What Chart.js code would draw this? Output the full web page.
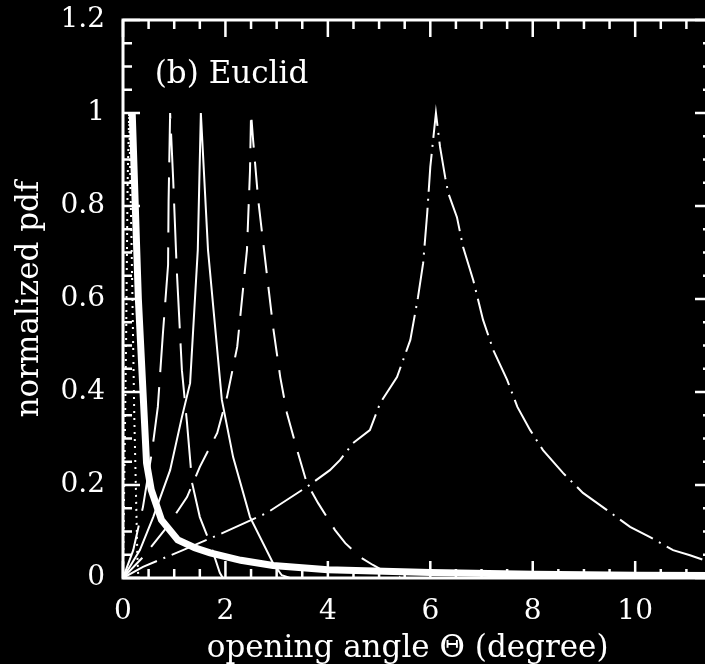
<!DOCTYPE html>
<html>
<head>
<meta charset="utf-8">
<script src="https://cdn.jsdelivr.net/npm/chart.js@4/dist/chart.umd.min.js"></script>
<style>
  html, body { margin: 0; padding: 0; background: #000; overflow: hidden; }
  canvas { display: block; }
</style>
</head>
<body>
<canvas id="grafico" width="720" height="664"></canvas>
<script>
// curvas (theta em graus, pdf normalizada)
const curvaGrossa = [
  [0.18, 1.0], [0.3, 0.6], [0.46, 0.247], [0.55, 0.19], [0.75, 0.125], [1.07, 0.082],
  [1.4, 0.065], [1.7, 0.054], [2.3, 0.038], [2.93, 0.027], [4, 0.018], [6, 0.012],
  [8, 0.008], [10, 0.006], [11.7, 0.005]
];
const curvaPontilhada = [
  [0, 0], [0.06, 0.5], [0.09, 0.85], [0.12, 1.0], [0.17, 0.7], [0.22, 0.35], [0.28, 0.05], [0.3, 0]
];
const curvaTracoLongo = [
  [0, 0], [0.2, 0.06], [0.39, 0.153], [0.57, 0.275], [0.68, 0.368], [0.78, 0.527],
  [0.88, 0.673], [0.89, 0.81], [0.92, 1.0], [0.98, 0.856], [1.05, 0.662], [1.15, 0.447],
  [1.25, 0.333], [1.35, 0.204], [1.5, 0.131], [1.7, 0.075], [1.89, 0.011], [1.95, 0]
];
const curvaFina = [
  [0, 0], [0.33, 0.06], [0.59, 0.131], [0.92, 0.232], [1.15, 0.346], [1.31, 0.419],
  [1.46, 0.705], [1.52, 1.0], [1.66, 0.705], [1.84, 0.49], [1.93, 0.383], [2.15, 0.26],
  [2.48, 0.131], [2.93, 0.032], [3.1, 0.006], [3.26, 0]
];
const curvaTracoMedio = [
  [0, 0], [0.39, 0.045], [0.86, 0.11], [1.25, 0.174], [1.5, 0.239], [1.84, 0.312],
  [2.03, 0.389], [2.23, 0.497], [2.42, 0.705], [2.48, 0.877], [2.5, 1.0], [2.54, 0.942],
  [2.64, 0.813], [2.77, 0.69], [2.93, 0.54], [3.07, 0.432], [3.2, 0.355], [3.4, 0.275],
  [3.59, 0.204], [3.81, 0.161], [4.14, 0.103], [4.34, 0.075], [4.63, 0.045], [4.88, 0.028],
  [5.12, 0.013], [5.41, 0.002]
];
const curvaTracoPonto = [
  [0, 0], [0.39, 0.024], [1.17, 0.06], [1.95, 0.097], [2.81, 0.14], [3.59, 0.196],
  [4.04, 0.232], [4.24, 0.254], [4.49, 0.29], [4.82, 0.318], [5.02, 0.376], [5.35, 0.432],
  [5.61, 0.512], [5.76, 0.604], [5.86, 0.677], [5.94, 0.785], [6.0, 0.884], [6.11, 1.0],
  [6.19, 0.927], [6.29, 0.862], [6.35, 0.828], [6.52, 0.776], [6.64, 0.712], [6.84, 0.64],
  [7.03, 0.555], [7.23, 0.49], [7.5, 0.426], [7.7, 0.368], [7.95, 0.318], [8.2, 0.275],
  [8.59, 0.226], [8.98, 0.183], [9.45, 0.146], [9.9, 0.11], [10.29, 0.088], [10.74, 0.06],
  [11.07, 0.049], [11.33, 0.039], [11.66, 0.028]
];

const limitesX = [0, 11.5];
const limitesY = [0, 1.2];
const passoX = 2, passoMenorX = 0.5;
const passoY = 0.2, passoMenorY = 0.05;
const rotulo = '(b) Euclid';
const tituloX = 'opening angle \u0398 (degree)\u00a0\u00a0';
const tituloY = 'normalized pdf';

const fonteTicks = { family: 'DejaVu Serif', size: 28 };
const fonteTitulo = { family: 'DejaVu Serif', size: 31 };

const paraPontos = (lista) => lista.map(([x, y]) => ({ x, y }));

const serie = (dados, largura, traco) => ({
  data: paraPontos(dados),
  borderColor: '#fff',
  borderWidth: largura,
  borderDash: traco,
  pointRadius: 0,
  tension: 0,
  fill: false
});

// moldura com marcas de escala para dentro
const moldura = {
  id: 'moldura',
  afterDatasetsDraw(chart) {
    const { ctx, chartArea: a, scales: { x, y } } = chart;
    ctx.save();
    ctx.strokeStyle = '#fff';
    ctx.lineWidth = 3;
    ctx.strokeRect(a.left, a.top, a.right - a.left, a.bottom - a.top);
    ctx.lineWidth = 2.5;
    ctx.beginPath();
    for (let v = limitesX[0]; v <= limitesX[1] + 1e-9; v += passoMenorX) {
      const px = x.getPixelForValue(v);
      const len = Math.abs(v / passoX - Math.round(v / passoX)) < 1e-6 ? 17 : 9;
      ctx.moveTo(px, a.bottom); ctx.lineTo(px, a.bottom - len);
      ctx.moveTo(px, a.top); ctx.lineTo(px, a.top + len);
    }
    for (let v = limitesY[0]; v <= limitesY[1] + 1e-9; v += passoMenorY) {
      const py = y.getPixelForValue(v);
      const len = Math.abs(v / passoY - Math.round(v / passoY)) < 1e-6 ? 17 : 9;
      ctx.moveTo(a.left, py); ctx.lineTo(a.left + len, py);
      ctx.moveTo(a.right, py); ctx.lineTo(a.right - len, py);
    }
    ctx.stroke();
    ctx.fillStyle = '#fff';
    ctx.font = fonteTitulo.size + 'px "' + fonteTitulo.family + '"';
    ctx.textBaseline = 'alphabetic';
    ctx.fillText(rotulo, x.getPixelForValue(0.62), y.getPixelForValue(1.065));
    ctx.restore();
  }
};

new Chart(document.getElementById('grafico'), {
  type: 'line',
  data: {
    datasets: [
      serie(curvaPontilhada, 2, [2, 5]),
      serie(curvaTracoLongo, 2, [55, 15]),
      serie(curvaFina, 2, []),
      serie(curvaTracoMedio, 2, [28, 14]),
      serie(curvaTracoPonto, 2, [38, 7, 2, 7]),
      serie(curvaGrossa, 7, [])
    ]
  },
  options: {
    responsive: false,
    animation: false,
    devicePixelRatio: 1,
    layout: { padding: { top: 20, right: 8, left: 0, bottom: 0 } },
    plugins: { legend: { display: false }, tooltip: { enabled: false } },
    scales: {
      x: {
        type: 'linear',
        min: limitesX[0],
        max: limitesX[1],
        grid: { display: false, drawTicks: false },
        border: { display: false },
        ticks: { stepSize: passoX, includeBounds: false, color: '#fff', font: fonteTicks, padding: 17, maxRotation: 0 },
        title: { display: true, text: tituloX, color: '#fff', font: fonteTitulo, padding: { top: 0, bottom: -4 } },
        afterFit: (escala) => { escala.height = 86; escala.paddingLeft = 0; escala.paddingRight = 0; }
      },
      y: {
        type: 'linear',
        min: limitesY[0],
        max: limitesY[1],
        grid: { display: false, drawTicks: false },
        border: { display: false },
        ticks: {
          stepSize: passoY, includeBounds: false, color: '#fff', font: fonteTicks, padding: 18,
          callback: (v) => String(+v.toFixed(1))
        },
        title: { display: true, text: tituloY, color: '#fff', font: fonteTitulo, padding: { top: 11, bottom: 0 } },
        afterFit: (escala) => { escala.width = 123; escala.paddingTop = 0; escala.paddingBottom = 0; }
      }
    }
  },
  plugins: [moldura]
});
</script>
</body>
</html>
